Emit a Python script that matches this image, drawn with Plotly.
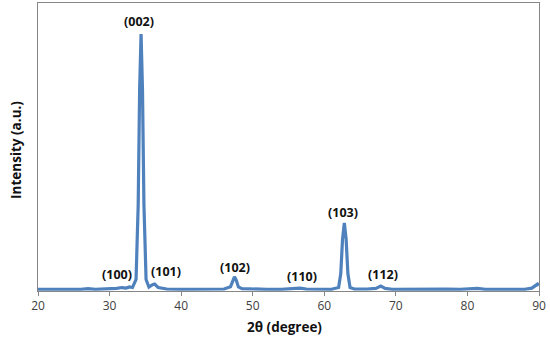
import plotly.graph_objects as go

two_theta = [20, 22, 24, 26, 27, 28, 30, 31, 31.7, 32.3, 32.8, 33.2, 33.7, 34.0, 34.2, 34.4, 34.6, 34.8, 35.1, 35.5,
             36.0, 36.3, 36.8, 37.5, 38, 40, 42, 44, 46, 46.9, 47.2, 47.45, 47.7, 48.0, 48.5, 50, 52, 54, 55.5, 56.6,
             57.5, 59, 61, 62.0, 62.3, 62.55, 62.8, 63.05, 63.3, 63.6, 64.2, 66, 67.2, 67.9, 68.5, 69.5, 72.5, 74, 77, 79,
             81.4, 82.5, 85, 88, 89.0, 89.5, 89.8, 90]
intensity = [6, 5, 6, 6, 8, 6, 7, 9, 12, 10, 14, 12, 40, 300, 700, 892, 700, 300, 40, 14,
             22, 24, 12, 8, 7, 6, 7, 6, 7, 15, 38, 49, 38, 14, 8, 6, 6, 6, 7, 10,
             7, 6, 6, 12, 60, 180, 236, 180, 60, 12, 7, 7, 9, 17, 9, 6, 7, 6, 7, 6,
             9, 6, 6, 6, 10, 20, 24, 20]

peak_labels = ["(002)", "(100)", "(101)", "(102)", "(110)", "(103)", "(112)"]
label_x = [34.1, 31.0, 37.9, 47.5, 56.9, 62.6, 68.2]
label_y = [937, 56, 66, 83, 49, 271, 56]

x_title = "2θ (degree)"
y_title = "Intensity (a.u.)"

fig = go.Figure()
fig.add_trace(go.Scatter(x=two_theta, y=intensity, mode="lines",
                         line=dict(color="#4F81BD", width=3.2), hoverinfo="skip"))

for t, x, y in zip(peak_labels, label_x, label_y):
    fig.add_annotation(x=x, y=y, text="<b>" + t + "</b>", showarrow=False,
                       xanchor="center", yanchor="middle",
                       font=dict(family="Open Sans", size=12.5, color="#111111"))

fig.add_annotation(x=0.493, y=-36 / 288, xref="paper", yref="paper",
                   xanchor="center", yanchor="middle",
                   text="<b>" + x_title + "</b>", showarrow=False,
                   font=dict(family="Open Sans", size=13.5, color="#111111"))
fig.add_annotation(x=-22 / 501, y=0.49, xref="paper", yref="paper", textangle=-90,
                   xanchor="center", yanchor="middle",
                   text="<b>" + y_title + "</b>", showarrow=False,
                   font=dict(family="Open Sans", size=13.5, color="#111111"))

fig.update_layout(
    width=550, height=343,
    margin=dict(l=38, r=11, t=3, b=52, autoexpand=False),
    paper_bgcolor="white", plot_bgcolor="white",
    showlegend=False,
    font=dict(family="Open Sans", color="#333333"),
)
fig.update_xaxes(range=[20, 90], tickvals=[20, 30, 40, 50, 60, 70, 80, 90], automargin=False,
                 showgrid=False, zeroline=False, showline=True, linecolor="#868686", linewidth=1,
                 mirror=True, ticks="outside", ticklen=4, tickcolor="#868686",
                 tickfont=dict(family="Open Sans", size=12, color="#404040"))
fig.update_yaxes(range=[0, 1000], showticklabels=False, showgrid=False, zeroline=False, automargin=False,
                 showline=True, linecolor="#868686", linewidth=1, mirror=True, ticks="")

fig.write_html("out.html", config={"displayModeBar": False},
               post_script="document.body.style.margin='0';document.body.style.padding='0';")
